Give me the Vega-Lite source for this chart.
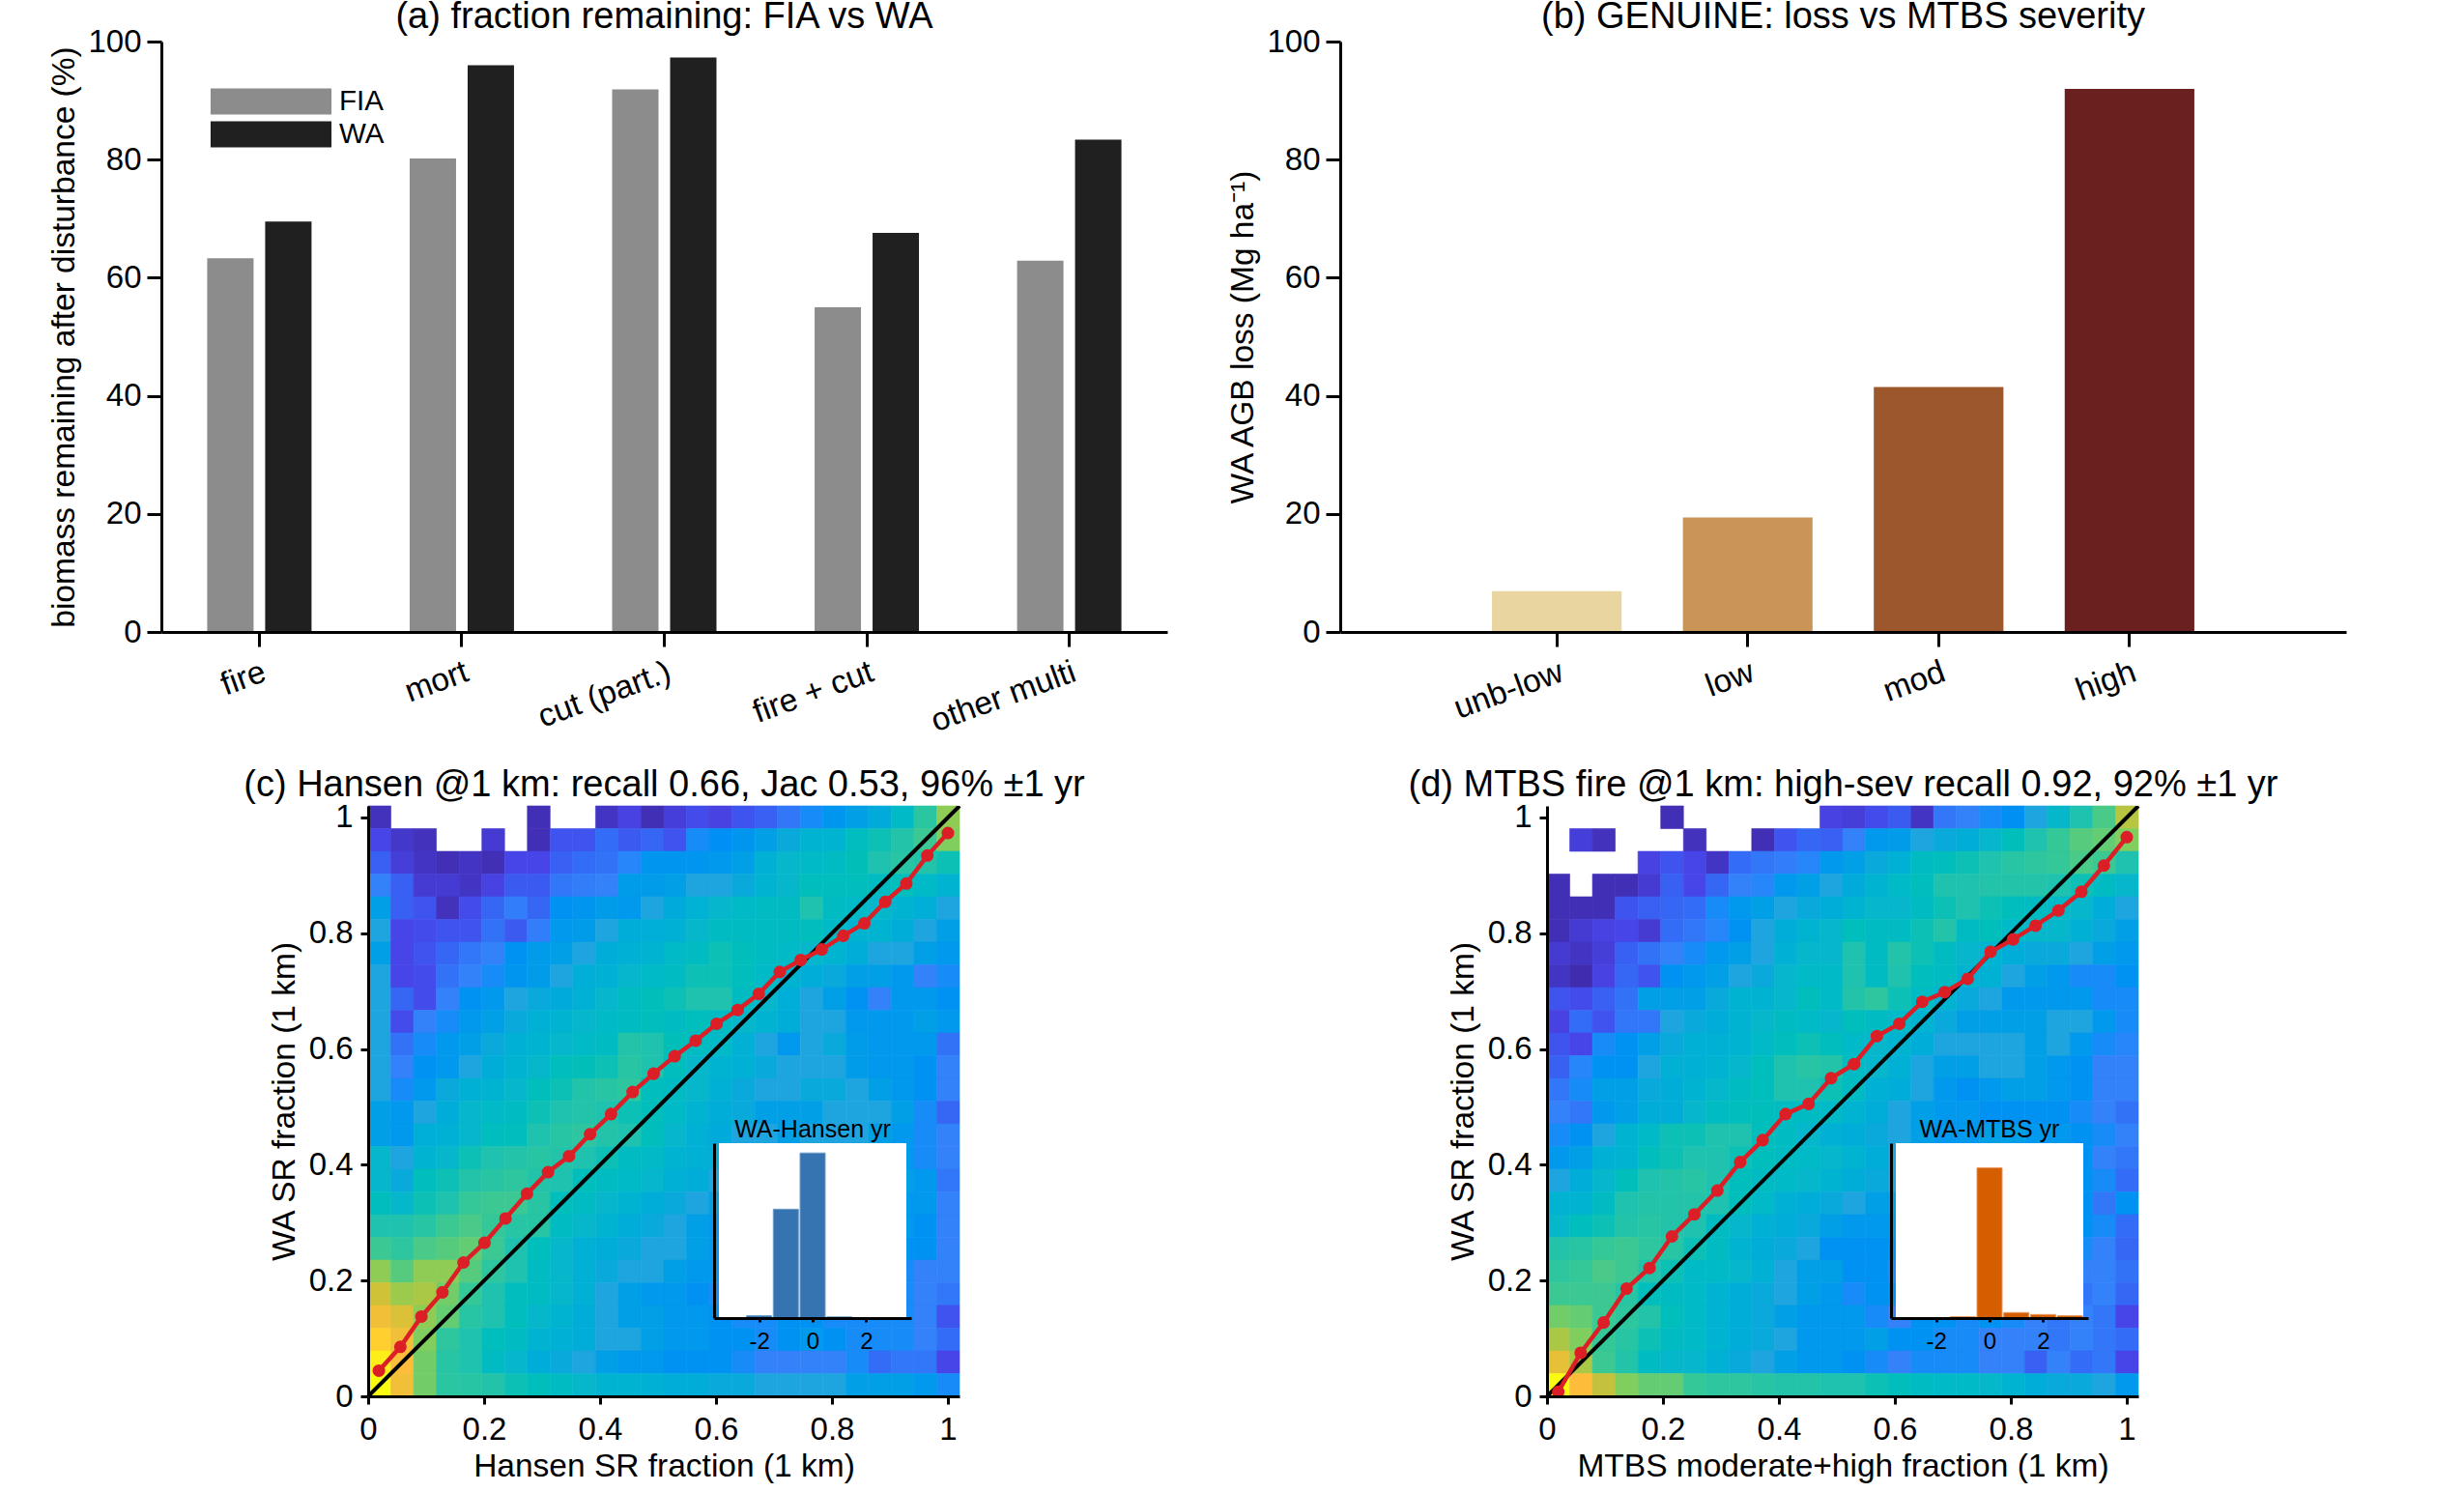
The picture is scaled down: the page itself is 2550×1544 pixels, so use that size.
{"$schema":"https://vega.github.io/schema/vega-lite/v6.json","autosize":{"type":"none"},"padding":{"left":167,"top":43,"right":2383,"bottom":1501},"background":"white","columns":2,"spacing":{"row":180,"column":179},"bounds":"flush","config":{"font":"Liberation Sans","view":{"stroke":null},"axis":{"grid":false,"domainColor":"black","tickColor":"black","labelColor":"black","titleColor":"black","domainWidth":3,"tickWidth":3,"labelFontSize":33,"titleFontSize":33.5,"titleFontWeight":"normal","labelFlush":false},"title":{"fontSize":38,"fontWeight":"normal","color":"black","offset":-2,"frame":"group"}},
"datasets":{
"hc":[{"i":0,"j":25,"v":4},{"i":7,"j":25,"v":3},{"i":10,"j":25,"v":5},{"i":11,"j":25,"v":9},{"i":12,"j":25,"v":3},{"i":13,"j":25,"v":8},{"i":14,"j":25,"v":11},{"i":15,"j":25,"v":9},{"i":16,"j":25,"v":12},{"i":17,"j":25,"v":14},{"i":18,"j":25,"v":18},{"i":19,"j":25,"v":22},{"i":20,"j":25,"v":25},{"i":21,"j":25,"v":28},{"i":22,"j":25,"v":33},{"i":23,"j":25,"v":42},{"i":24,"j":25,"v":55},{"i":25,"j":25,"v":72},
{"i":0,"j":24,"v":10},{"i":1,"j":24,"v":6},{"i":2,"j":24,"v":4},{"i":5,"j":24,"v":7},{"i":7,"j":24,"v":3},{"i":8,"j":24,"v":12},{"i":9,"j":24,"v":12},{"i":10,"j":24,"v":16},{"i":11,"j":24,"v":13},{"i":12,"j":24,"v":15},{"i":13,"j":24,"v":12},{"i":14,"j":24,"v":22},{"i":15,"j":24,"v":23},{"i":16,"j":24,"v":25},{"i":17,"j":24,"v":28},{"i":18,"j":24,"v":32},{"i":19,"j":24,"v":38},{"i":20,"j":24,"v":38},{"i":21,"j":24,"v":45},{"i":22,"j":24,"v":48},{"i":23,"j":24,"v":52},{"i":24,"j":24,"v":60},{"i":25,"j":24,"v":70},
{"i":0,"j":23,"v":14},{"i":1,"j":23,"v":8},{"i":2,"j":23,"v":5},{"i":3,"j":23,"v":3},{"i":4,"j":23,"v":5},{"i":5,"j":23,"v":3},{"i":6,"j":23,"v":10},{"i":7,"j":23,"v":10},{"i":8,"j":23,"v":14},{"i":9,"j":23,"v":16},{"i":10,"j":23,"v":17},{"i":11,"j":23,"v":21},{"i":12,"j":23,"v":25},{"i":13,"j":23,"v":25},{"i":14,"j":23,"v":25},{"i":15,"j":23,"v":26},{"i":16,"j":23,"v":28},{"i":17,"j":23,"v":36},{"i":18,"j":23,"v":40},{"i":19,"j":23,"v":42},{"i":20,"j":23,"v":44},{"i":21,"j":23,"v":47},{"i":22,"j":23,"v":50},{"i":23,"j":23,"v":54},{"i":24,"j":23,"v":52},{"i":25,"j":23,"v":48},
{"i":0,"j":22,"v":20},{"i":1,"j":22,"v":14},{"i":2,"j":22,"v":7},{"i":3,"j":22,"v":7},{"i":4,"j":22,"v":5},{"i":5,"j":22,"v":9},{"i":6,"j":22,"v":13},{"i":7,"j":22,"v":13},{"i":8,"j":22,"v":18},{"i":9,"j":22,"v":19},{"i":10,"j":22,"v":20},{"i":11,"j":22,"v":27},{"i":12,"j":22,"v":27},{"i":13,"j":22,"v":28},{"i":14,"j":22,"v":30},{"i":15,"j":22,"v":30},{"i":16,"j":22,"v":32},{"i":17,"j":22,"v":38},{"i":18,"j":22,"v":40},{"i":19,"j":22,"v":46},{"i":20,"j":22,"v":46},{"i":21,"j":22,"v":46},{"i":22,"j":22,"v":44},{"i":23,"j":22,"v":46},{"i":24,"j":22,"v":42},{"i":25,"j":22,"v":38},
{"i":0,"j":21,"v":28},{"i":1,"j":21,"v":14},{"i":2,"j":21,"v":12},{"i":3,"j":21,"v":4},{"i":4,"j":21,"v":11},{"i":5,"j":21,"v":15},{"i":6,"j":21,"v":19},{"i":7,"j":21,"v":15},{"i":8,"j":21,"v":24},{"i":9,"j":21,"v":25},{"i":10,"j":21,"v":27},{"i":11,"j":21,"v":26},{"i":12,"j":21,"v":30},{"i":13,"j":21,"v":33},{"i":14,"j":21,"v":37},{"i":15,"j":21,"v":40},{"i":16,"j":21,"v":42},{"i":17,"j":21,"v":44},{"i":18,"j":21,"v":44},{"i":19,"j":21,"v":50},{"i":20,"j":21,"v":44},{"i":21,"j":21,"v":42},{"i":22,"j":21,"v":40},{"i":23,"j":21,"v":38},{"i":24,"j":21,"v":35},{"i":25,"j":21,"v":30},
{"i":0,"j":20,"v":30},{"i":1,"j":20,"v":10},{"i":2,"j":20,"v":11},{"i":3,"j":20,"v":12},{"i":4,"j":20,"v":12},{"i":5,"j":20,"v":17},{"i":6,"j":20,"v":13},{"i":7,"j":20,"v":19},{"i":8,"j":20,"v":26},{"i":9,"j":20,"v":27},{"i":10,"j":20,"v":30},{"i":11,"j":20,"v":34},{"i":12,"j":20,"v":35},{"i":13,"j":20,"v":36},{"i":14,"j":20,"v":40},{"i":15,"j":20,"v":44},{"i":16,"j":20,"v":44},{"i":17,"j":20,"v":44},{"i":18,"j":20,"v":44},{"i":19,"j":20,"v":46},{"i":20,"j":20,"v":42},{"i":21,"j":20,"v":38},{"i":22,"j":20,"v":38},{"i":23,"j":20,"v":34},{"i":24,"j":20,"v":30},{"i":25,"j":20,"v":28},
{"i":0,"j":19,"v":28},{"i":1,"j":19,"v":10},{"i":2,"j":19,"v":12},{"i":3,"j":19,"v":15},{"i":4,"j":19,"v":18},{"i":5,"j":19,"v":20},{"i":6,"j":19,"v":24},{"i":7,"j":19,"v":27},{"i":8,"j":19,"v":28},{"i":9,"j":19,"v":30},{"i":10,"j":19,"v":34},{"i":11,"j":19,"v":36},{"i":12,"j":19,"v":38},{"i":13,"j":19,"v":42},{"i":14,"j":19,"v":44},{"i":15,"j":19,"v":48},{"i":16,"j":19,"v":46},{"i":17,"j":19,"v":44},{"i":18,"j":19,"v":42},{"i":19,"j":19,"v":40},{"i":20,"j":19,"v":38},{"i":21,"j":19,"v":34},{"i":22,"j":19,"v":30},{"i":23,"j":19,"v":30},{"i":24,"j":19,"v":28},{"i":25,"j":19,"v":26},
{"i":0,"j":18,"v":30},{"i":1,"j":18,"v":10},{"i":2,"j":18,"v":11},{"i":3,"j":18,"v":17},{"i":4,"j":18,"v":20},{"i":5,"j":18,"v":22},{"i":6,"j":18,"v":25},{"i":7,"j":18,"v":27},{"i":8,"j":18,"v":30},{"i":9,"j":18,"v":35},{"i":10,"j":18,"v":36},{"i":11,"j":18,"v":40},{"i":12,"j":18,"v":42},{"i":13,"j":18,"v":44},{"i":14,"j":18,"v":48},{"i":15,"j":18,"v":48},{"i":16,"j":18,"v":46},{"i":17,"j":18,"v":42},{"i":18,"j":18,"v":38},{"i":19,"j":18,"v":34},{"i":20,"j":18,"v":32},{"i":21,"j":18,"v":28},{"i":22,"j":18,"v":28},{"i":23,"j":18,"v":26},{"i":24,"j":18,"v":20},{"i":25,"j":18,"v":22},
{"i":0,"j":17,"v":30},{"i":1,"j":17,"v":15},{"i":2,"j":17,"v":11},{"i":3,"j":17,"v":20},{"i":4,"j":17,"v":24},{"i":5,"j":17,"v":26},{"i":6,"j":17,"v":30},{"i":7,"j":17,"v":32},{"i":8,"j":17,"v":33},{"i":9,"j":17,"v":36},{"i":10,"j":17,"v":40},{"i":11,"j":17,"v":44},{"i":12,"j":17,"v":46},{"i":13,"j":17,"v":48},{"i":14,"j":17,"v":50},{"i":15,"j":17,"v":50},{"i":16,"j":17,"v":44},{"i":17,"j":17,"v":40},{"i":18,"j":17,"v":35},{"i":19,"j":17,"v":30},{"i":20,"j":17,"v":28},{"i":21,"j":17,"v":24},{"i":22,"j":17,"v":20},{"i":23,"j":17,"v":26},{"i":24,"j":17,"v":26},{"i":25,"j":17,"v":24},
{"i":0,"j":16,"v":30},{"i":1,"j":16,"v":11},{"i":2,"j":16,"v":20},{"i":3,"j":16,"v":22},{"i":4,"j":16,"v":26},{"i":5,"j":16,"v":28},{"i":6,"j":16,"v":32},{"i":7,"j":16,"v":36},{"i":8,"j":16,"v":38},{"i":9,"j":16,"v":40},{"i":10,"j":16,"v":42},{"i":11,"j":16,"v":44},{"i":12,"j":16,"v":46},{"i":13,"j":16,"v":44},{"i":14,"j":16,"v":46},{"i":15,"j":16,"v":44},{"i":16,"j":16,"v":40},{"i":17,"j":16,"v":38},{"i":18,"j":16,"v":34},{"i":19,"j":16,"v":30},{"i":20,"j":16,"v":30},{"i":21,"j":16,"v":26},{"i":22,"j":16,"v":26},{"i":23,"j":16,"v":26},{"i":24,"j":16,"v":28},{"i":25,"j":16,"v":26},
{"i":0,"j":15,"v":30},{"i":1,"j":15,"v":17},{"i":2,"j":15,"v":22},{"i":3,"j":15,"v":26},{"i":4,"j":15,"v":28},{"i":5,"j":15,"v":32},{"i":6,"j":15,"v":36},{"i":7,"j":15,"v":38},{"i":8,"j":15,"v":40},{"i":9,"j":15,"v":42},{"i":10,"j":15,"v":44},{"i":11,"j":15,"v":52},{"i":12,"j":15,"v":50},{"i":13,"j":15,"v":47},{"i":14,"j":15,"v":44},{"i":15,"j":15,"v":42},{"i":16,"j":15,"v":36},{"i":17,"j":15,"v":30},{"i":18,"j":15,"v":26},{"i":19,"j":15,"v":30},{"i":20,"j":15,"v":32},{"i":21,"j":15,"v":27},{"i":22,"j":15,"v":26},{"i":23,"j":15,"v":26},{"i":24,"j":15,"v":26},{"i":25,"j":15,"v":17},
{"i":0,"j":14,"v":30},{"i":1,"j":14,"v":20},{"i":2,"j":14,"v":24},{"i":3,"j":14,"v":26},{"i":4,"j":14,"v":30},{"i":5,"j":14,"v":34},{"i":6,"j":14,"v":38},{"i":7,"j":14,"v":40},{"i":8,"j":14,"v":46},{"i":9,"j":14,"v":47},{"i":10,"j":14,"v":48},{"i":11,"j":14,"v":54},{"i":12,"j":14,"v":50},{"i":13,"j":14,"v":46},{"i":14,"j":14,"v":40},{"i":15,"j":14,"v":38},{"i":16,"j":14,"v":36},{"i":17,"j":14,"v":32},{"i":18,"j":14,"v":30},{"i":19,"j":14,"v":30},{"i":20,"j":14,"v":30},{"i":21,"j":14,"v":27},{"i":22,"j":14,"v":26},{"i":23,"j":14,"v":26},{"i":24,"j":14,"v":24},{"i":25,"j":14,"v":20},
{"i":0,"j":13,"v":30},{"i":1,"j":13,"v":22},{"i":2,"j":13,"v":26},{"i":3,"j":13,"v":32},{"i":4,"j":13,"v":36},{"i":5,"j":13,"v":38},{"i":6,"j":13,"v":40},{"i":7,"j":13,"v":46},{"i":8,"j":13,"v":48},{"i":9,"j":13,"v":52},{"i":10,"j":13,"v":54},{"i":11,"j":13,"v":56},{"i":12,"j":13,"v":46},{"i":13,"j":13,"v":44},{"i":14,"j":13,"v":40},{"i":15,"j":13,"v":36},{"i":16,"j":13,"v":32},{"i":17,"j":13,"v":30},{"i":18,"j":13,"v":30},{"i":19,"j":13,"v":32},{"i":20,"j":13,"v":32},{"i":21,"j":13,"v":30},{"i":22,"j":13,"v":28},{"i":23,"j":13,"v":26},{"i":24,"j":13,"v":24},{"i":25,"j":13,"v":20},
{"i":0,"j":12,"v":28},{"i":1,"j":12,"v":26},{"i":2,"j":12,"v":30},{"i":3,"j":12,"v":34},{"i":4,"j":12,"v":40},{"i":5,"j":12,"v":42},{"i":6,"j":12,"v":44},{"i":7,"j":12,"v":48},{"i":8,"j":12,"v":50},{"i":9,"j":12,"v":52},{"i":10,"j":12,"v":50},{"i":11,"j":12,"v":48},{"i":12,"j":12,"v":46},{"i":13,"j":12,"v":42},{"i":14,"j":12,"v":38},{"i":15,"j":12,"v":34},{"i":16,"j":12,"v":32},{"i":17,"j":12,"v":28},{"i":18,"j":12,"v":28},{"i":19,"j":12,"v":28},{"i":20,"j":12,"v":30},{"i":21,"j":12,"v":30},{"i":22,"j":12,"v":30},{"i":23,"j":12,"v":28},{"i":24,"j":12,"v":22},{"i":25,"j":12,"v":15},
{"i":0,"j":11,"v":28},{"i":1,"j":11,"v":26},{"i":2,"j":11,"v":35},{"i":3,"j":11,"v":36},{"i":4,"j":11,"v":40},{"i":5,"j":11,"v":45},{"i":6,"j":11,"v":46},{"i":7,"j":11,"v":50},{"i":8,"j":11,"v":54},{"i":9,"j":11,"v":56},{"i":10,"j":11,"v":52},{"i":11,"j":11,"v":50},{"i":12,"j":11,"v":46},{"i":13,"j":11,"v":40},{"i":14,"j":11,"v":36},{"i":15,"j":11,"v":33},{"i":16,"j":11,"v":30},{"i":17,"j":11,"v":30},{"i":18,"j":11,"v":28},{"i":19,"j":11,"v":30},{"i":20,"j":11,"v":30},{"i":21,"j":11,"v":30},{"i":22,"j":11,"v":28},{"i":23,"j":11,"v":26},{"i":24,"j":11,"v":22},{"i":25,"j":11,"v":20},
{"i":0,"j":10,"v":40},{"i":1,"j":10,"v":30},{"i":2,"j":10,"v":38},{"i":3,"j":10,"v":40},{"i":4,"j":10,"v":48},{"i":5,"j":10,"v":50},{"i":6,"j":10,"v":52},{"i":7,"j":10,"v":54},{"i":8,"j":10,"v":52},{"i":9,"j":10,"v":50},{"i":10,"j":10,"v":48},{"i":11,"j":10,"v":44},{"i":12,"j":10,"v":42},{"i":13,"j":10,"v":38},{"i":14,"j":10,"v":36},{"i":15,"j":10,"v":34},{"i":16,"j":10,"v":32},{"i":17,"j":10,"v":30},{"i":18,"j":10,"v":30},{"i":19,"j":10,"v":28},{"i":20,"j":10,"v":28},{"i":21,"j":10,"v":28},{"i":22,"j":10,"v":28},{"i":23,"j":10,"v":26},{"i":24,"j":10,"v":22},{"i":25,"j":10,"v":20},
{"i":0,"j":9,"v":40},{"i":1,"j":9,"v":32},{"i":2,"j":9,"v":46},{"i":3,"j":9,"v":48},{"i":4,"j":9,"v":52},{"i":5,"j":9,"v":54},{"i":6,"j":9,"v":56},{"i":7,"j":9,"v":52},{"i":8,"j":9,"v":50},{"i":9,"j":9,"v":46},{"i":10,"j":9,"v":44},{"i":11,"j":9,"v":42},{"i":12,"j":9,"v":40},{"i":13,"j":9,"v":36},{"i":14,"j":9,"v":34},{"i":15,"j":9,"v":30},{"i":16,"j":9,"v":28},{"i":17,"j":9,"v":28},{"i":18,"j":9,"v":26},{"i":19,"j":9,"v":28},{"i":20,"j":9,"v":28},{"i":21,"j":9,"v":28},{"i":22,"j":9,"v":28},{"i":23,"j":9,"v":28},{"i":24,"j":9,"v":26},{"i":25,"j":9,"v":18},
{"i":0,"j":8,"v":46},{"i":1,"j":8,"v":40},{"i":2,"j":8,"v":48},{"i":3,"j":8,"v":50},{"i":4,"j":8,"v":58},{"i":5,"j":8,"v":60},{"i":6,"j":8,"v":60},{"i":7,"j":8,"v":54},{"i":8,"j":8,"v":46},{"i":9,"j":8,"v":44},{"i":10,"j":8,"v":40},{"i":11,"j":8,"v":38},{"i":12,"j":8,"v":34},{"i":13,"j":8,"v":32},{"i":14,"j":8,"v":30},{"i":15,"j":8,"v":28},{"i":16,"j":8,"v":26},{"i":17,"j":8,"v":26},{"i":18,"j":8,"v":26},{"i":19,"j":8,"v":28},{"i":20,"j":8,"v":28},{"i":21,"j":8,"v":28},{"i":22,"j":8,"v":28},{"i":23,"j":8,"v":26},{"i":24,"j":8,"v":26},{"i":25,"j":8,"v":20},
{"i":0,"j":7,"v":50},{"i":1,"j":7,"v":50},{"i":2,"j":7,"v":54},{"i":3,"j":7,"v":60},{"i":4,"j":7,"v":62},{"i":5,"j":7,"v":58},{"i":6,"j":7,"v":54},{"i":7,"j":7,"v":54},{"i":8,"j":7,"v":44},{"i":9,"j":7,"v":40},{"i":10,"j":7,"v":38},{"i":11,"j":7,"v":34},{"i":12,"j":7,"v":32},{"i":13,"j":7,"v":30},{"i":14,"j":7,"v":28},{"i":15,"j":7,"v":26},{"i":16,"j":7,"v":26},{"i":17,"j":7,"v":26},{"i":18,"j":7,"v":26},{"i":19,"j":7,"v":26},{"i":20,"j":7,"v":26},{"i":21,"j":7,"v":24},{"i":22,"j":7,"v":26},{"i":23,"j":7,"v":26},{"i":24,"j":7,"v":24},{"i":25,"j":7,"v":20},
{"i":0,"j":6,"v":60},{"i":1,"j":6,"v":56},{"i":2,"j":6,"v":62},{"i":3,"j":6,"v":64},{"i":4,"j":6,"v":66},{"i":5,"j":6,"v":60},{"i":6,"j":6,"v":50},{"i":7,"j":6,"v":46},{"i":8,"j":6,"v":40},{"i":9,"j":6,"v":36},{"i":10,"j":6,"v":34},{"i":11,"j":6,"v":32},{"i":12,"j":6,"v":30},{"i":13,"j":6,"v":30},{"i":14,"j":6,"v":28},{"i":15,"j":6,"v":26},{"i":16,"j":6,"v":24},{"i":17,"j":6,"v":24},{"i":18,"j":6,"v":22},{"i":19,"j":6,"v":26},{"i":20,"j":6,"v":24},{"i":21,"j":6,"v":24},{"i":22,"j":6,"v":24},{"i":23,"j":6,"v":24},{"i":24,"j":6,"v":24},{"i":25,"j":6,"v":20},
{"i":0,"j":5,"v":72},{"i":1,"j":5,"v":64},{"i":2,"j":5,"v":72},{"i":3,"j":5,"v":72},{"i":4,"j":5,"v":64},{"i":5,"j":5,"v":56},{"i":6,"j":5,"v":50},{"i":7,"j":5,"v":44},{"i":8,"j":5,"v":40},{"i":9,"j":5,"v":36},{"i":10,"j":5,"v":32},{"i":11,"j":5,"v":30},{"i":12,"j":5,"v":30},{"i":13,"j":5,"v":28},{"i":14,"j":5,"v":26},{"i":15,"j":5,"v":26},{"i":16,"j":5,"v":24},{"i":17,"j":5,"v":24},{"i":18,"j":5,"v":22},{"i":19,"j":5,"v":24},{"i":20,"j":5,"v":24},{"i":21,"j":5,"v":24},{"i":22,"j":5,"v":24},{"i":23,"j":5,"v":22},{"i":24,"j":5,"v":20},{"i":25,"j":5,"v":20},
{"i":0,"j":4,"v":82},{"i":1,"j":4,"v":74},{"i":2,"j":4,"v":76},{"i":3,"j":4,"v":68},{"i":4,"j":4,"v":58},{"i":5,"j":4,"v":50},{"i":6,"j":4,"v":46},{"i":7,"j":4,"v":44},{"i":8,"j":4,"v":40},{"i":9,"j":4,"v":36},{"i":10,"j":4,"v":30},{"i":11,"j":4,"v":28},{"i":12,"j":4,"v":26},{"i":13,"j":4,"v":26},{"i":14,"j":4,"v":24},{"i":15,"j":4,"v":22},{"i":16,"j":4,"v":24},{"i":17,"j":4,"v":26},{"i":18,"j":4,"v":24},{"i":19,"j":4,"v":24},{"i":20,"j":4,"v":24},{"i":21,"j":4,"v":22},{"i":22,"j":4,"v":22},{"i":23,"j":4,"v":22},{"i":24,"j":4,"v":20},{"i":25,"j":4,"v":18},
{"i":0,"j":3,"v":88},{"i":1,"j":3,"v":84},{"i":2,"j":3,"v":72},{"i":3,"j":3,"v":66},{"i":4,"j":3,"v":54},{"i":5,"j":3,"v":50},{"i":6,"j":3,"v":46},{"i":7,"j":3,"v":40},{"i":8,"j":3,"v":38},{"i":9,"j":3,"v":34},{"i":10,"j":3,"v":30},{"i":11,"j":3,"v":28},{"i":12,"j":3,"v":28},{"i":13,"j":3,"v":26},{"i":14,"j":3,"v":26},{"i":15,"j":3,"v":24},{"i":16,"j":3,"v":22},{"i":17,"j":3,"v":22},{"i":18,"j":3,"v":24},{"i":19,"j":3,"v":24},{"i":20,"j":3,"v":22},{"i":21,"j":3,"v":22},{"i":22,"j":3,"v":22},{"i":23,"j":3,"v":22},{"i":24,"j":3,"v":20},{"i":25,"j":3,"v":12},
{"i":0,"j":2,"v":93},{"i":1,"j":2,"v":88},{"i":2,"j":2,"v":70},{"i":3,"j":2,"v":56},{"i":4,"j":2,"v":50},{"i":5,"j":2,"v":46},{"i":6,"j":2,"v":44},{"i":7,"j":2,"v":38},{"i":8,"j":2,"v":36},{"i":9,"j":2,"v":34},{"i":10,"j":2,"v":30},{"i":11,"j":2,"v":30},{"i":12,"j":2,"v":28},{"i":13,"j":2,"v":26},{"i":14,"j":2,"v":26},{"i":15,"j":2,"v":24},{"i":16,"j":2,"v":24},{"i":17,"j":2,"v":22},{"i":18,"j":2,"v":24},{"i":19,"j":2,"v":26},{"i":20,"j":2,"v":24},{"i":21,"j":2,"v":22},{"i":22,"j":2,"v":22},{"i":23,"j":2,"v":22},{"i":24,"j":2,"v":20},{"i":25,"j":2,"v":16},
{"i":0,"j":1,"v":98},{"i":1,"j":1,"v":90},{"i":2,"j":1,"v":68},{"i":3,"j":1,"v":54},{"i":4,"j":1,"v":50},{"i":5,"j":1,"v":44},{"i":6,"j":1,"v":40},{"i":7,"j":1,"v":34},{"i":8,"j":1,"v":32},{"i":9,"j":1,"v":30},{"i":10,"j":1,"v":28},{"i":11,"j":1,"v":26},{"i":12,"j":1,"v":26},{"i":13,"j":1,"v":24},{"i":14,"j":1,"v":24},{"i":15,"j":1,"v":24},{"i":16,"j":1,"v":22},{"i":17,"j":1,"v":20},{"i":18,"j":1,"v":20},{"i":19,"j":1,"v":20},{"i":20,"j":1,"v":20},{"i":21,"j":1,"v":22},{"i":22,"j":1,"v":16},{"i":23,"j":1,"v":18},{"i":24,"j":1,"v":18},{"i":25,"j":1,"v":10},
{"i":0,"j":0,"v":100},{"i":1,"j":0,"v":88},{"i":2,"j":0,"v":68},{"i":3,"j":0,"v":55},{"i":4,"j":0,"v":54},{"i":5,"j":0,"v":52},{"i":6,"j":0,"v":48},{"i":7,"j":0,"v":46},{"i":8,"j":0,"v":44},{"i":9,"j":0,"v":40},{"i":10,"j":0,"v":38},{"i":11,"j":0,"v":38},{"i":12,"j":0,"v":36},{"i":13,"j":0,"v":34},{"i":14,"j":0,"v":34},{"i":15,"j":0,"v":32},{"i":16,"j":0,"v":32},{"i":17,"j":0,"v":30},{"i":18,"j":0,"v":30},{"i":19,"j":0,"v":30},{"i":20,"j":0,"v":30},{"i":21,"j":0,"v":28},{"i":22,"j":0,"v":28},{"i":23,"j":0,"v":28},{"i":24,"j":0,"v":26},{"i":25,"j":0,"v":22}],
"hd":[{"i":5,"j":25,"v":3},{"i":12,"j":25,"v":9},{"i":13,"j":25,"v":8},{"i":14,"j":25,"v":11},{"i":15,"j":25,"v":13},{"i":16,"j":25,"v":5},{"i":17,"j":25,"v":18},{"i":18,"j":25,"v":20},{"i":19,"j":25,"v":22},{"i":20,"j":25,"v":23},{"i":21,"j":25,"v":30},{"i":22,"j":25,"v":40},{"i":23,"j":25,"v":50},{"i":24,"j":25,"v":62},{"i":25,"j":25,"v":78},
{"i":1,"j":24,"v":8},{"i":2,"j":24,"v":4},{"i":6,"j":24,"v":4},{"i":9,"j":24,"v":3},{"i":10,"j":24,"v":12},{"i":11,"j":24,"v":15},{"i":12,"j":24,"v":14},{"i":13,"j":24,"v":20},{"i":14,"j":24,"v":26},{"i":15,"j":24,"v":27},{"i":16,"j":24,"v":30},{"i":17,"j":24,"v":32},{"i":18,"j":24,"v":34},{"i":19,"j":24,"v":40},{"i":20,"j":24,"v":46},{"i":21,"j":24,"v":50},{"i":22,"j":24,"v":58},{"i":23,"j":24,"v":64},{"i":24,"j":24,"v":66},{"i":25,"j":24,"v":70},
{"i":4,"j":23,"v":9},{"i":5,"j":23,"v":12},{"i":6,"j":23,"v":10},{"i":7,"j":23,"v":5},{"i":8,"j":23,"v":16},{"i":9,"j":23,"v":18},{"i":10,"j":23,"v":19},{"i":11,"j":23,"v":21},{"i":12,"j":23,"v":26},{"i":13,"j":23,"v":28},{"i":14,"j":23,"v":32},{"i":15,"j":23,"v":36},{"i":16,"j":23,"v":44},{"i":17,"j":23,"v":46},{"i":18,"j":23,"v":48},{"i":19,"j":23,"v":50},{"i":20,"j":23,"v":54},{"i":21,"j":23,"v":56},{"i":22,"j":23,"v":58},{"i":23,"j":23,"v":62},{"i":24,"j":23,"v":60},{"i":25,"j":23,"v":50},
{"i":0,"j":22,"v":3},{"i":2,"j":22,"v":3},{"i":3,"j":22,"v":3},{"i":4,"j":22,"v":7},{"i":5,"j":22,"v":14},{"i":6,"j":22,"v":10},{"i":7,"j":22,"v":15},{"i":8,"j":22,"v":20},{"i":9,"j":22,"v":21},{"i":10,"j":22,"v":26},{"i":11,"j":22,"v":28},{"i":12,"j":22,"v":30},{"i":13,"j":22,"v":33},{"i":14,"j":22,"v":38},{"i":15,"j":22,"v":42},{"i":16,"j":22,"v":46},{"i":17,"j":22,"v":50},{"i":18,"j":22,"v":50},{"i":19,"j":22,"v":52},{"i":20,"j":22,"v":52},{"i":21,"j":22,"v":52},{"i":22,"j":22,"v":50},{"i":23,"j":22,"v":48},{"i":24,"j":22,"v":44},{"i":25,"j":22,"v":40},
{"i":0,"j":21,"v":3},{"i":1,"j":21,"v":3},{"i":2,"j":21,"v":3},{"i":3,"j":21,"v":12},{"i":4,"j":21,"v":14},{"i":5,"j":21,"v":15},{"i":6,"j":21,"v":16},{"i":7,"j":21,"v":22},{"i":8,"j":21,"v":26},{"i":9,"j":21,"v":28},{"i":10,"j":21,"v":30},{"i":11,"j":21,"v":32},{"i":12,"j":21,"v":34},{"i":13,"j":21,"v":38},{"i":14,"j":21,"v":40},{"i":15,"j":21,"v":40},{"i":16,"j":21,"v":44},{"i":17,"j":21,"v":48},{"i":18,"j":21,"v":50},{"i":19,"j":21,"v":48},{"i":20,"j":21,"v":46},{"i":21,"j":21,"v":44},{"i":22,"j":21,"v":42},{"i":23,"j":21,"v":40},{"i":24,"j":21,"v":34},{"i":25,"j":21,"v":30},
{"i":0,"j":20,"v":3},{"i":1,"j":20,"v":7},{"i":2,"j":20,"v":9},{"i":3,"j":20,"v":10},{"i":4,"j":20,"v":7},{"i":5,"j":20,"v":16},{"i":6,"j":20,"v":18},{"i":7,"j":20,"v":21},{"i":8,"j":20,"v":24},{"i":9,"j":20,"v":30},{"i":10,"j":20,"v":34},{"i":11,"j":20,"v":38},{"i":12,"j":20,"v":40},{"i":13,"j":20,"v":46},{"i":14,"j":20,"v":44},{"i":15,"j":20,"v":44},{"i":16,"j":20,"v":48},{"i":17,"j":20,"v":52},{"i":18,"j":20,"v":44},{"i":19,"j":20,"v":46},{"i":20,"j":20,"v":42},{"i":21,"j":20,"v":40},{"i":22,"j":20,"v":40},{"i":23,"j":20,"v":36},{"i":24,"j":20,"v":32},{"i":25,"j":20,"v":28},
{"i":0,"j":19,"v":7},{"i":1,"j":19,"v":5},{"i":2,"j":19,"v":8},{"i":3,"j":19,"v":14},{"i":4,"j":19,"v":17},{"i":5,"j":19,"v":20},{"i":6,"j":19,"v":22},{"i":7,"j":19,"v":26},{"i":8,"j":19,"v":28},{"i":9,"j":19,"v":30},{"i":10,"j":19,"v":36},{"i":11,"j":19,"v":40},{"i":12,"j":19,"v":40},{"i":13,"j":19,"v":50},{"i":14,"j":19,"v":44},{"i":15,"j":19,"v":52},{"i":16,"j":19,"v":48},{"i":17,"j":19,"v":44},{"i":18,"j":19,"v":40},{"i":19,"j":19,"v":38},{"i":20,"j":19,"v":34},{"i":21,"j":19,"v":32},{"i":22,"j":19,"v":32},{"i":23,"j":19,"v":30},{"i":24,"j":19,"v":28},{"i":25,"j":19,"v":26},
{"i":0,"j":18,"v":5},{"i":1,"j":18,"v":2},{"i":2,"j":18,"v":9},{"i":3,"j":18,"v":15},{"i":4,"j":18,"v":12},{"i":5,"j":18,"v":24},{"i":6,"j":18,"v":26},{"i":7,"j":18,"v":28},{"i":8,"j":18,"v":30},{"i":9,"j":18,"v":32},{"i":10,"j":18,"v":40},{"i":11,"j":18,"v":42},{"i":12,"j":18,"v":42},{"i":13,"j":18,"v":50},{"i":14,"j":18,"v":44},{"i":15,"j":18,"v":50},{"i":16,"j":18,"v":46},{"i":17,"j":18,"v":44},{"i":18,"j":18,"v":38},{"i":19,"j":18,"v":36},{"i":20,"j":18,"v":30},{"i":21,"j":18,"v":28},{"i":22,"j":18,"v":26},{"i":23,"j":18,"v":22},{"i":24,"j":18,"v":22},{"i":25,"j":18,"v":24},
{"i":0,"j":17,"v":12},{"i":1,"j":17,"v":11},{"i":2,"j":17,"v":14},{"i":3,"j":17,"v":17},{"i":4,"j":17,"v":28},{"i":5,"j":17,"v":28},{"i":6,"j":17,"v":28},{"i":7,"j":17,"v":32},{"i":8,"j":17,"v":38},{"i":9,"j":17,"v":38},{"i":10,"j":17,"v":40},{"i":11,"j":17,"v":46},{"i":12,"j":17,"v":42},{"i":13,"j":17,"v":52},{"i":14,"j":17,"v":56},{"i":15,"j":17,"v":48},{"i":16,"j":17,"v":44},{"i":17,"j":17,"v":38},{"i":18,"j":17,"v":32},{"i":19,"j":17,"v":30},{"i":20,"j":17,"v":26},{"i":21,"j":17,"v":26},{"i":22,"j":17,"v":26},{"i":23,"j":17,"v":26},{"i":24,"j":17,"v":22},{"i":25,"j":17,"v":22},
{"i":0,"j":16,"v":9},{"i":1,"j":16,"v":16},{"i":2,"j":16,"v":12},{"i":3,"j":16,"v":18},{"i":4,"j":16,"v":18},{"i":5,"j":16,"v":30},{"i":6,"j":16,"v":32},{"i":7,"j":16,"v":34},{"i":8,"j":16,"v":38},{"i":9,"j":16,"v":40},{"i":10,"j":16,"v":44},{"i":11,"j":16,"v":42},{"i":12,"j":16,"v":40},{"i":13,"j":16,"v":46},{"i":14,"j":16,"v":44},{"i":15,"j":16,"v":42},{"i":16,"j":16,"v":38},{"i":17,"j":16,"v":32},{"i":18,"j":16,"v":28},{"i":19,"j":16,"v":28},{"i":20,"j":16,"v":28},{"i":21,"j":16,"v":28},{"i":22,"j":16,"v":30},{"i":23,"j":16,"v":30},{"i":24,"j":16,"v":26},{"i":25,"j":16,"v":22},
{"i":0,"j":15,"v":12},{"i":1,"j":15,"v":10},{"i":2,"j":15,"v":22},{"i":3,"j":15,"v":24},{"i":4,"j":15,"v":28},{"i":5,"j":15,"v":32},{"i":6,"j":15,"v":36},{"i":7,"j":15,"v":36},{"i":8,"j":15,"v":38},{"i":9,"j":15,"v":42},{"i":10,"j":15,"v":46},{"i":11,"j":15,"v":48},{"i":12,"j":15,"v":46},{"i":13,"j":15,"v":42},{"i":14,"j":15,"v":40},{"i":15,"j":15,"v":38},{"i":16,"j":15,"v":34},{"i":17,"j":15,"v":30},{"i":18,"j":15,"v":30},{"i":19,"j":15,"v":30},{"i":20,"j":15,"v":30},{"i":21,"j":15,"v":28},{"i":22,"j":15,"v":30},{"i":23,"j":15,"v":26},{"i":24,"j":15,"v":22},{"i":25,"j":15,"v":21},
{"i":0,"j":14,"v":14},{"i":1,"j":14,"v":21},{"i":2,"j":14,"v":24},{"i":3,"j":14,"v":24},{"i":4,"j":14,"v":30},{"i":5,"j":14,"v":36},{"i":6,"j":14,"v":36},{"i":7,"j":14,"v":38},{"i":8,"j":14,"v":40},{"i":9,"j":14,"v":46},{"i":10,"j":14,"v":50},{"i":11,"j":14,"v":54},{"i":12,"j":14,"v":52},{"i":13,"j":14,"v":44},{"i":14,"j":14,"v":40},{"i":15,"j":14,"v":36},{"i":16,"j":14,"v":30},{"i":17,"j":14,"v":28},{"i":18,"j":14,"v":28},{"i":19,"j":14,"v":30},{"i":20,"j":14,"v":30},{"i":21,"j":14,"v":28},{"i":22,"j":14,"v":26},{"i":23,"j":14,"v":24},{"i":24,"j":14,"v":20},{"i":25,"j":14,"v":20},
{"i":0,"j":13,"v":18},{"i":1,"j":13,"v":22},{"i":2,"j":13,"v":28},{"i":3,"j":13,"v":28},{"i":4,"j":13,"v":32},{"i":5,"j":13,"v":34},{"i":6,"j":13,"v":38},{"i":7,"j":13,"v":40},{"i":8,"j":13,"v":44},{"i":9,"j":13,"v":46},{"i":10,"j":13,"v":50},{"i":11,"j":13,"v":50},{"i":12,"j":13,"v":48},{"i":13,"j":13,"v":44},{"i":14,"j":13,"v":36},{"i":15,"j":13,"v":34},{"i":16,"j":13,"v":30},{"i":17,"j":13,"v":26},{"i":18,"j":13,"v":24},{"i":19,"j":13,"v":26},{"i":20,"j":13,"v":28},{"i":21,"j":13,"v":28},{"i":22,"j":13,"v":26},{"i":23,"j":13,"v":24},{"i":24,"j":13,"v":20},{"i":25,"j":13,"v":20},
{"i":0,"j":12,"v":20},{"i":1,"j":12,"v":18},{"i":2,"j":12,"v":26},{"i":3,"j":12,"v":28},{"i":4,"j":12,"v":34},{"i":5,"j":12,"v":34},{"i":6,"j":12,"v":40},{"i":7,"j":12,"v":44},{"i":8,"j":12,"v":46},{"i":9,"j":12,"v":46},{"i":10,"j":12,"v":44},{"i":11,"j":12,"v":44},{"i":12,"j":12,"v":42},{"i":13,"j":12,"v":38},{"i":14,"j":12,"v":34},{"i":15,"j":12,"v":30},{"i":16,"j":12,"v":28},{"i":17,"j":12,"v":26},{"i":18,"j":12,"v":26},{"i":19,"j":12,"v":24},{"i":20,"j":12,"v":24},{"i":21,"j":12,"v":24},{"i":22,"j":12,"v":24},{"i":23,"j":12,"v":22},{"i":24,"j":12,"v":20},{"i":25,"j":12,"v":17},
{"i":0,"j":11,"v":22},{"i":1,"j":11,"v":24},{"i":2,"j":11,"v":30},{"i":3,"j":11,"v":38},{"i":4,"j":11,"v":42},{"i":5,"j":11,"v":48},{"i":6,"j":11,"v":48},{"i":7,"j":11,"v":50},{"i":8,"j":11,"v":50},{"i":9,"j":11,"v":46},{"i":10,"j":11,"v":44},{"i":11,"j":11,"v":40},{"i":12,"j":11,"v":36},{"i":13,"j":11,"v":34},{"i":14,"j":11,"v":32},{"i":15,"j":11,"v":30},{"i":16,"j":11,"v":28},{"i":17,"j":11,"v":26},{"i":18,"j":11,"v":26},{"i":19,"j":11,"v":28},{"i":20,"j":11,"v":28},{"i":21,"j":11,"v":26},{"i":22,"j":11,"v":26},{"i":23,"j":11,"v":24},{"i":24,"j":11,"v":22},{"i":25,"j":11,"v":20},
{"i":0,"j":10,"v":26},{"i":1,"j":10,"v":28},{"i":2,"j":10,"v":36},{"i":3,"j":10,"v":38},{"i":4,"j":10,"v":46},{"i":5,"j":10,"v":48},{"i":6,"j":10,"v":50},{"i":7,"j":10,"v":50},{"i":8,"j":10,"v":48},{"i":9,"j":10,"v":46},{"i":10,"j":10,"v":44},{"i":11,"j":10,"v":42},{"i":12,"j":10,"v":40},{"i":13,"j":10,"v":38},{"i":14,"j":10,"v":34},{"i":15,"j":10,"v":30},{"i":16,"j":10,"v":28},{"i":17,"j":10,"v":28},{"i":18,"j":10,"v":28},{"i":19,"j":10,"v":28},{"i":20,"j":10,"v":28},{"i":21,"j":10,"v":28},{"i":22,"j":10,"v":26},{"i":23,"j":10,"v":24},{"i":24,"j":10,"v":20},{"i":25,"j":10,"v":18},
{"i":0,"j":9,"v":30},{"i":1,"j":9,"v":34},{"i":2,"j":9,"v":40},{"i":3,"j":9,"v":46},{"i":4,"j":9,"v":50},{"i":5,"j":9,"v":52},{"i":6,"j":9,"v":54},{"i":7,"j":9,"v":50},{"i":8,"j":9,"v":46},{"i":9,"j":9,"v":44},{"i":10,"j":9,"v":42},{"i":11,"j":9,"v":40},{"i":12,"j":9,"v":38},{"i":13,"j":9,"v":34},{"i":14,"j":9,"v":32},{"i":15,"j":9,"v":30},{"i":16,"j":9,"v":28},{"i":17,"j":9,"v":28},{"i":18,"j":9,"v":28},{"i":19,"j":9,"v":26},{"i":20,"j":9,"v":26},{"i":21,"j":9,"v":26},{"i":22,"j":9,"v":26},{"i":23,"j":9,"v":24},{"i":24,"j":9,"v":22},{"i":25,"j":9,"v":16},
{"i":0,"j":8,"v":38},{"i":1,"j":8,"v":38},{"i":2,"j":8,"v":44},{"i":3,"j":8,"v":50},{"i":4,"j":8,"v":52},{"i":5,"j":8,"v":52},{"i":6,"j":8,"v":52},{"i":7,"j":8,"v":50},{"i":8,"j":8,"v":46},{"i":9,"j":8,"v":42},{"i":10,"j":8,"v":36},{"i":11,"j":8,"v":34},{"i":12,"j":8,"v":32},{"i":13,"j":8,"v":30},{"i":14,"j":8,"v":28},{"i":15,"j":8,"v":28},{"i":16,"j":8,"v":26},{"i":17,"j":8,"v":26},{"i":18,"j":8,"v":26},{"i":19,"j":8,"v":26},{"i":20,"j":8,"v":26},{"i":21,"j":8,"v":26},{"i":22,"j":8,"v":26},{"i":23,"j":8,"v":24},{"i":24,"j":8,"v":18},{"i":25,"j":8,"v":24},
{"i":0,"j":7,"v":40},{"i":1,"j":7,"v":46},{"i":2,"j":7,"v":48},{"i":3,"j":7,"v":52},{"i":4,"j":7,"v":54},{"i":5,"j":7,"v":52},{"i":6,"j":7,"v":50},{"i":7,"j":7,"v":44},{"i":8,"j":7,"v":40},{"i":9,"j":7,"v":36},{"i":10,"j":7,"v":34},{"i":11,"j":7,"v":32},{"i":12,"j":7,"v":28},{"i":13,"j":7,"v":26},{"i":14,"j":7,"v":26},{"i":15,"j":7,"v":26},{"i":16,"j":7,"v":24},{"i":17,"j":7,"v":26},{"i":18,"j":7,"v":26},{"i":19,"j":7,"v":24},{"i":20,"j":7,"v":24},{"i":21,"j":7,"v":24},{"i":22,"j":7,"v":24},{"i":23,"j":7,"v":24},{"i":24,"j":7,"v":22},{"i":25,"j":7,"v":16},
{"i":0,"j":6,"v":52},{"i":1,"j":6,"v":54},{"i":2,"j":6,"v":58},{"i":3,"j":6,"v":60},{"i":4,"j":6,"v":56},{"i":5,"j":6,"v":54},{"i":6,"j":6,"v":48},{"i":7,"j":6,"v":44},{"i":8,"j":6,"v":38},{"i":9,"j":6,"v":34},{"i":10,"j":6,"v":32},{"i":11,"j":6,"v":30},{"i":12,"j":6,"v":24},{"i":13,"j":6,"v":24},{"i":14,"j":6,"v":24},{"i":15,"j":6,"v":24},{"i":16,"j":6,"v":24},{"i":17,"j":6,"v":24},{"i":18,"j":6,"v":24},{"i":19,"j":6,"v":24},{"i":20,"j":6,"v":22},{"i":21,"j":6,"v":22},{"i":22,"j":6,"v":22},{"i":23,"j":6,"v":22},{"i":24,"j":6,"v":20},{"i":25,"j":6,"v":15},
{"i":0,"j":5,"v":56},{"i":1,"j":5,"v":58},{"i":2,"j":5,"v":62},{"i":3,"j":5,"v":60},{"i":4,"j":5,"v":52},{"i":5,"j":5,"v":48},{"i":6,"j":5,"v":42},{"i":7,"j":5,"v":42},{"i":8,"j":5,"v":40},{"i":9,"j":5,"v":36},{"i":10,"j":5,"v":30},{"i":11,"j":5,"v":28},{"i":12,"j":5,"v":28},{"i":13,"j":5,"v":24},{"i":14,"j":5,"v":24},{"i":15,"j":5,"v":22},{"i":16,"j":5,"v":22},{"i":17,"j":5,"v":22},{"i":18,"j":5,"v":24},{"i":19,"j":5,"v":24},{"i":20,"j":5,"v":22},{"i":21,"j":5,"v":22},{"i":22,"j":5,"v":20},{"i":23,"j":5,"v":20},{"i":24,"j":5,"v":20},{"i":25,"j":5,"v":17},
{"i":0,"j":4,"v":60},{"i":1,"j":4,"v":60},{"i":2,"j":4,"v":60},{"i":3,"j":4,"v":54},{"i":4,"j":4,"v":46},{"i":5,"j":4,"v":44},{"i":6,"j":4,"v":42},{"i":7,"j":4,"v":38},{"i":8,"j":4,"v":34},{"i":9,"j":4,"v":32},{"i":10,"j":4,"v":30},{"i":11,"j":4,"v":28},{"i":12,"j":4,"v":26},{"i":13,"j":4,"v":22},{"i":14,"j":4,"v":24},{"i":15,"j":4,"v":24},{"i":16,"j":4,"v":24},{"i":17,"j":4,"v":24},{"i":18,"j":4,"v":24},{"i":19,"j":4,"v":22},{"i":20,"j":4,"v":22},{"i":21,"j":4,"v":20},{"i":22,"j":4,"v":20},{"i":23,"j":4,"v":18},{"i":24,"j":4,"v":20},{"i":25,"j":4,"v":15},
{"i":0,"j":3,"v":68},{"i":1,"j":3,"v":66},{"i":2,"j":3,"v":60},{"i":3,"j":3,"v":56},{"i":4,"j":3,"v":52},{"i":5,"j":3,"v":46},{"i":6,"j":3,"v":42},{"i":7,"j":3,"v":38},{"i":8,"j":3,"v":34},{"i":9,"j":3,"v":32},{"i":10,"j":3,"v":28},{"i":11,"j":3,"v":26},{"i":12,"j":3,"v":26},{"i":13,"j":3,"v":26},{"i":14,"j":3,"v":22},{"i":15,"j":3,"v":20},{"i":16,"j":3,"v":24},{"i":17,"j":3,"v":24},{"i":18,"j":3,"v":22},{"i":19,"j":3,"v":24},{"i":20,"j":3,"v":22},{"i":21,"j":3,"v":20},{"i":22,"j":3,"v":18},{"i":23,"j":3,"v":20},{"i":24,"j":3,"v":18},{"i":25,"j":3,"v":10},
{"i":0,"j":2,"v":76},{"i":1,"j":2,"v":70},{"i":2,"j":2,"v":58},{"i":3,"j":2,"v":54},{"i":4,"j":2,"v":48},{"i":5,"j":2,"v":44},{"i":6,"j":2,"v":42},{"i":7,"j":2,"v":38},{"i":8,"j":2,"v":34},{"i":9,"j":2,"v":32},{"i":10,"j":2,"v":30},{"i":11,"j":2,"v":26},{"i":12,"j":2,"v":26},{"i":13,"j":2,"v":26},{"i":14,"j":2,"v":28},{"i":15,"j":2,"v":24},{"i":16,"j":2,"v":24},{"i":17,"j":2,"v":22},{"i":18,"j":2,"v":22},{"i":19,"j":2,"v":20},{"i":20,"j":2,"v":20},{"i":21,"j":2,"v":20},{"i":22,"j":2,"v":18},{"i":23,"j":2,"v":20},{"i":24,"j":2,"v":18},{"i":25,"j":2,"v":16},
{"i":0,"j":1,"v":86},{"i":1,"j":1,"v":76},{"i":2,"j":1,"v":60},{"i":3,"j":1,"v":52},{"i":4,"j":1,"v":44},{"i":5,"j":1,"v":40},{"i":6,"j":1,"v":40},{"i":7,"j":1,"v":36},{"i":8,"j":1,"v":32},{"i":9,"j":1,"v":30},{"i":10,"j":1,"v":28},{"i":11,"j":1,"v":26},{"i":12,"j":1,"v":26},{"i":13,"j":1,"v":24},{"i":14,"j":1,"v":22},{"i":15,"j":1,"v":20},{"i":16,"j":1,"v":22},{"i":17,"j":1,"v":22},{"i":18,"j":1,"v":22},{"i":19,"j":1,"v":20},{"i":20,"j":1,"v":20},{"i":21,"j":1,"v":14},{"i":22,"j":1,"v":20},{"i":23,"j":1,"v":16},{"i":24,"j":1,"v":18},{"i":25,"j":1,"v":10},
{"i":0,"j":0,"v":100},{"i":1,"j":0,"v":90},{"i":2,"j":0,"v":80},{"i":3,"j":0,"v":70},{"i":4,"j":0,"v":66},{"i":5,"j":0,"v":66},{"i":6,"j":0,"v":58},{"i":7,"j":0,"v":56},{"i":8,"j":0,"v":56},{"i":9,"j":0,"v":54},{"i":10,"j":0,"v":52},{"i":11,"j":0,"v":52},{"i":12,"j":0,"v":50},{"i":13,"j":0,"v":50},{"i":14,"j":0,"v":48},{"i":15,"j":0,"v":46},{"i":16,"j":0,"v":44},{"i":17,"j":0,"v":42},{"i":18,"j":0,"v":42},{"i":19,"j":0,"v":40},{"i":20,"j":0,"v":38},{"i":21,"j":0,"v":34},{"i":22,"j":0,"v":32},{"i":23,"j":0,"v":32},{"i":24,"j":0,"v":30},{"i":25,"j":0,"v":26}]
},
"concat":[
{"width":1041,"height":611,"title":{"text":"(a) fraction remaining: FIA vs WA","offset":-10},"data":{"values":[{"cat":"fire","s":"FIA","pct":63.3},{"cat":"fire","s":"WA","pct":69.5},{"cat":"mort","s":"FIA","pct":80.2},{"cat":"mort","s":"WA","pct":96},{"cat":"cut (part.)","s":"FIA","pct":91.9},{"cat":"cut (part.)","s":"WA","pct":97.3},{"cat":"fire + cut","s":"FIA","pct":55},{"cat":"fire + cut","s":"WA","pct":67.6},{"cat":"other multi","s":"FIA","pct":62.9},{"cat":"other multi","s":"WA","pct":83.4}]},"mark":"bar","encoding":{"x":{"field":"cat","type":"nominal","sort":null,"scale":{"paddingInner":0.1,"paddingOuter":0.034},"axis":{"title":null,"labelAngle":-20,"labelAlign":"right","labelBaseline":"top","tickSize":15,"labelPadding":10,"labelFontSize":33.5,"zindex":1}},"xOffset":{"field":"s","scale":{"paddingInner":0.2,"paddingOuter":0.672}},"y":{"field":"pct","type":"quantitative","stack":null,"scale":{"domain":[0,100]},"axis":{"title":"biomass remaining after disturbance (%)","values":[0,20,40,60,80,100],"tickSize":15,"labelPadding":6,"titlePadding":7,"zindex":1}},"fill":{"field":"s","type":"nominal","scale":{"domain":["FIA","WA"],"range":["#8c8c8c","#202020"]},"legend":{"title":null,"orient":"none","legendX":96.5,"legendY":45,"symbolType":"M-3.68,-0.8H3.68V0.8H-3.68Z","symbolSize":1156,"symbolStrokeWidth":0,"rowPadding":2,"labelFontSize":29.5,"labelColor":"black","labelOffset":53.5,"padding":0}}}},
{"width":1041,"height":611,"title":{"text":"(b) GENUINE: loss vs MTBS severity","offset":-10},"data":{"values":[{"sev":"unb-low","loss":6.9},{"sev":"low","loss":19.4},{"sev":"mod","loss":41.5},{"sev":"high","loss":92}]},"mark":"bar","encoding":{"x":{"field":"sev","type":"nominal","sort":null,"scale":{"paddingInner":0.321,"paddingOuter":0.795},"axis":{"title":null,"labelAngle":-20,"labelAlign":"right","labelBaseline":"top","tickSize":15,"labelPadding":10,"labelFontSize":33.5,"zindex":1}},"y":{"field":"loss","type":"quantitative","scale":{"domain":[0,100]},"axis":{"title":"WA AGB loss (Mg ha⁻¹)","values":[0,20,40,60,80,100],"tickSize":15,"labelPadding":6,"titlePadding":7,"zindex":1}},"fill":{"field":"sev","type":"nominal","scale":{"domain":["unb-low","low","mod","high"],"range":["#e8d5a0","#c89458","#9c582c","#6b2020"]},"legend":null}}},
{"width":1041,"height":611,"title":"(c) Hansen @1 km: recall 0.66, Jac 0.53, 96% ±1 yr","resolve":{"scale":{"x":"independent","y":"independent"}},"layer":[
{"data":{"name":"hc"},"mark":{"type":"rect","strokeWidth":0.6},"encoding":{"x":{"field":"i","type":"ordinal","axis":null,"scale":{"range":[214,826],"padding":0}},"y":{"field":"j","type":"ordinal","axis":null,"scale":{"range":[611,0],"padding":0}},"fill":{"field":"v","type":"quantitative","legend":null,"scale":{"domain":[0,10,20,30,40,50,60,70,80,90,100],"range":["#3C26A0","#4745E8","#3482FA","#1EA5DF","#06B7CC","#1FC2AE","#3CC892","#80CE5E","#C4C23C","#FDBD3A","#F9FB10"]}},"stroke":{"field":"v","type":"quantitative","legend":null,"scale":{"domain":[0,10,20,30,40,50,60,70,80,90,100],"range":["#3C26A0","#4745E8","#3482FA","#1EA5DF","#06B7CC","#1FC2AE","#3CC892","#80CE5E","#C4C23C","#FDBD3A","#F9FB10"]}}}},
{"encoding":{"x":{"field":"x","type":"quantitative","scale":{"domain":[0,1.02],"range":[214,826],"nice":false},"axis":{"orient":"bottom","title":"Hansen SR fraction (1 km)","values":[0,0.2,0.4,0.6,0.8,1],"format":"~g","tickSize":8,"labelPadding":10,"titlePadding":5,"zindex":1}},"y":{"field":"y","type":"quantitative","scale":{"domain":[0,1.02],"range":[611,0],"nice":false},"axis":{"orient":"left","title":"WA SR fraction (1 km)","values":[0,0.2,0.4,0.6,0.8,1],"format":"~g","tickSize":8,"labelPadding":8,"titlePadding":8,"offset":-214,"zindex":1}}},"layer":[
{"data":{"values":[{"x":0,"y":0},{"x":1.02,"y":1.02}]},"mark":{"type":"line","color":"black","strokeWidth":4,"clip":true}},
{"data":{"values":[{"x":0.0185,"y":0.0443},{"x":0.0556,"y":0.0855},{"x":0.0919,"y":0.1378},{"x":0.1281,"y":0.1797},{"x":0.1644,"y":0.2312},{"x":0.2007,"y":0.2652},{"x":0.2369,"y":0.3072},{"x":0.274,"y":0.35},{"x":0.3102,"y":0.3872},{"x":0.3465,"y":0.4149},{"x":0.3828,"y":0.4529},{"x":0.419,"y":0.4877},{"x":0.4561,"y":0.5257},{"x":0.4923,"y":0.5574},{"x":0.5286,"y":0.5875},{"x":0.5649,"y":0.6144},{"x":0.6011,"y":0.6437},{"x":0.6374,"y":0.6675},{"x":0.6737,"y":0.6952},{"x":0.7099,"y":0.7332},{"x":0.7462,"y":0.7538},{"x":0.7824,"y":0.772},{"x":0.8195,"y":0.7957},{"x":0.8558,"y":0.8171},{"x":0.892,"y":0.8543},{"x":0.9283,"y":0.886},{"x":0.9645,"y":0.9343},{"x":1,"y":0.9731}]},"mark":{"type":"line","color":"#dc1f26","strokeWidth":4.5,"point":{"filled":true,"color":"#dc1f26","size":170}}}
]},
{"encoding":{"x":{"field":"yr","type":"quantitative","scale":{"domain":[-3.5,3.5],"range":[572,776],"nice":false},"axis":{"orient":"bottom","title":null,"values":[-2,0,2],"labelExpr":"'' + datum.value","labelFontSize":24,"tickSize":4,"labelPadding":8,"offset":-81,"zindex":1}},"y":{"field":"share","type":"quantitative","stack":null,"scale":{"domain":[0,0.445],"range":[530,349],"nice":false},"axis":{"orient":"left","title":null,"ticks":false,"labels":false,"offset":-572,"zindex":1}}},"layer":[
{"data":{"values":[{"yr":-3.5,"yr2":3.5,"share":0,"share2":0.445}]},"mark":{"type":"rect","color":"white"},"encoding":{"x2":{"field":"yr2"},"y2":{"field":"share2"}}},
{"data":{"values":[{"yr":-2,"share":0.006},{"yr":-1,"share":0.277},{"yr":0,"share":0.42},{"yr":1,"share":0.003}]},"mark":{"type":"bar","orient":"vertical","size":26,"color":"#3573b1","stroke":"#6f9cc8","strokeWidth":1}},
{"data":{"values":[{"yr":0,"share":0.445,"label":"WA-Hansen yr"}]},"mark":{"type":"text","fontSize":25,"color":"black","baseline":"alphabetic","dy":-6},"encoding":{"text":{"field":"label"}}}
]}
]},
{"width":1041,"height":611,"title":"(d) MTBS fire @1 km: high-sev recall 0.92, 92% ±1 yr","resolve":{"scale":{"x":"independent","y":"independent"}},"layer":[
{"data":{"name":"hd"},"mark":{"type":"rect","strokeWidth":0.6},"encoding":{"x":{"field":"i","type":"ordinal","axis":null,"scale":{"range":[214,826],"padding":0}},"y":{"field":"j","type":"ordinal","axis":null,"scale":{"range":[611,0],"padding":0}},"fill":{"field":"v","type":"quantitative","legend":null,"scale":{"domain":[0,10,20,30,40,50,60,70,80,90,100],"range":["#3C26A0","#4745E8","#3482FA","#1EA5DF","#06B7CC","#1FC2AE","#3CC892","#80CE5E","#C4C23C","#FDBD3A","#F9FB10"]}},"stroke":{"field":"v","type":"quantitative","legend":null,"scale":{"domain":[0,10,20,30,40,50,60,70,80,90,100],"range":["#3C26A0","#4745E8","#3482FA","#1EA5DF","#06B7CC","#1FC2AE","#3CC892","#80CE5E","#C4C23C","#FDBD3A","#F9FB10"]}}}},
{"encoding":{"x":{"field":"x","type":"quantitative","scale":{"domain":[0,1.02],"range":[214,826],"nice":false},"axis":{"orient":"bottom","title":"MTBS moderate+high fraction (1 km)","values":[0,0.2,0.4,0.6,0.8,1],"format":"~g","tickSize":8,"labelPadding":10,"titlePadding":5,"zindex":1}},"y":{"field":"y","type":"quantitative","scale":{"domain":[0,1.02],"range":[611,0],"nice":false},"axis":{"orient":"left","title":"WA SR fraction (1 km)","values":[0,0.2,0.4,0.6,0.8,1],"format":"~g","tickSize":8,"labelPadding":8,"titlePadding":8,"offset":-214,"zindex":1}}},"layer":[
{"data":{"values":[{"x":0,"y":0},{"x":1.02,"y":1.02}]},"mark":{"type":"line","color":"black","strokeWidth":4,"clip":true}},
{"data":{"values":[{"x":0.0194,"y":0.0079},{"x":0.0581,"y":0.0752},{"x":0.0977,"y":0.1275},{"x":0.1372,"y":0.1861},{"x":0.1768,"y":0.2217},{"x":0.2155,"y":0.2763},{"x":0.2542,"y":0.3143},{"x":0.2938,"y":0.3555},{"x":0.3333,"y":0.4046},{"x":0.3721,"y":0.4426},{"x":0.4116,"y":0.4877},{"x":0.4512,"y":0.5052},{"x":0.4899,"y":0.5495},{"x":0.5295,"y":0.574},{"x":0.569,"y":0.6223},{"x":0.6077,"y":0.6437},{"x":0.6473,"y":0.6817},{"x":0.686,"y":0.6983},{"x":0.7256,"y":0.7213},{"x":0.7651,"y":0.768},{"x":0.8039,"y":0.7894},{"x":0.8426,"y":0.8131},{"x":0.8821,"y":0.8393},{"x":0.9217,"y":0.8717},{"x":0.9605,"y":0.9169},{"x":1,"y":0.966}]},"mark":{"type":"line","color":"#dc1f26","strokeWidth":4.5,"point":{"filled":true,"color":"#dc1f26","size":170}}}
]},
{"encoding":{"x":{"field":"yr","type":"quantitative","scale":{"domain":[-3.5,3.5],"range":[570,774],"nice":false},"axis":{"orient":"bottom","title":null,"values":[-2,0,2],"labelExpr":"'' + datum.value","labelFontSize":24,"tickSize":4,"labelPadding":8,"offset":-81,"zindex":1}},"y":{"field":"share","type":"quantitative","stack":null,"scale":{"domain":[0,0.445],"range":[530,349],"nice":false},"axis":{"orient":"left","title":null,"ticks":false,"labels":false,"offset":-570,"zindex":1}}},"layer":[
{"data":{"values":[{"yr":-3.5,"yr2":3.5,"share":0,"share2":0.445}]},"mark":{"type":"rect","color":"white"},"encoding":{"x2":{"field":"yr2"},"y2":{"field":"share2"}}},
{"data":{"values":[{"yr":-2,"share":0.001},{"yr":-1,"share":0.0035},{"yr":0,"share":0.382},{"yr":1,"share":0.014},{"yr":2,"share":0.009},{"yr":3,"share":0.006}]},"mark":{"type":"bar","orient":"vertical","size":26,"color":"#d55e00","stroke":"#e8955a","strokeWidth":1}},
{"data":{"values":[{"yr":0,"share":0.445,"label":"WA-MTBS yr"}]},"mark":{"type":"text","fontSize":25,"color":"black","baseline":"alphabetic","dy":-6},"encoding":{"text":{"field":"label"}}}
]}
]}
]}
